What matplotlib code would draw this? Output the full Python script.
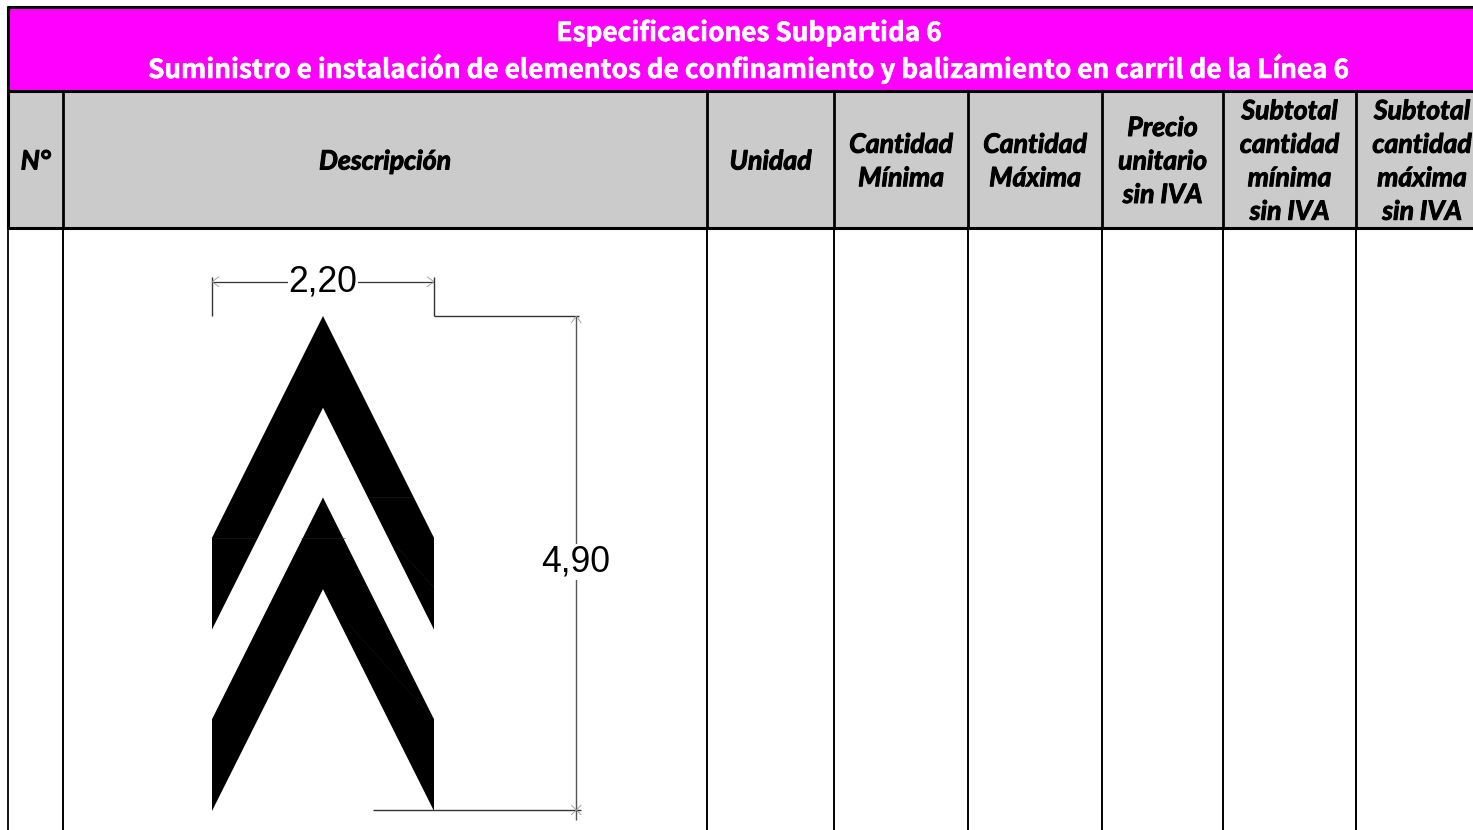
import matplotlib
matplotlib.use('Agg')
import matplotlib.pyplot as plt
import matplotlib.patheffects as pe
from matplotlib.patches import Polygon, Rectangle
from matplotlib.transforms import Affine2D

# Table text
title_lines = ['Especificaciones Subpartida 6',
               'Suministro e instalación de elementos de confinamiento y balizamiento en carril de la Línea 6']
headers = [['N°'], ['Descripción'], ['Unidad'], ['Cantidad', 'Mínima'], ['Cantidad', 'Máxima'],
           ['Precio', 'unitario', 'sin IVA'], ['Subtotal', 'cantidad', 'mínima', 'sin IVA'],
           ['Subtotal', 'cantidad', 'máxima', 'sin IVA']]

# Marking dimensions in metres
width_m = 2.20
height_m = 4.90
chevron_offsets = [0.0, 1.80]
chevron_side_y = 2.20
chevron_thickness = 0.91
width_label = '2,20'
height_label = '4,90'

# Column borders in pixels, last one falls off the page
col_edges = [8.5, 63, 707, 834, 968, 1102, 1223, 1356, 1490]

MAGENTA = '#ff00ff'
GREY = '#cbcbcb'
TITLE_FONT = ['Noto Sans CJK SC', 'DejaVu Sans']
HEAD_FONT = 'Lato'

fig = plt.figure(figsize=(14.73, 8.30), dpi=100)
ax = fig.add_axes([0, 0, 1, 1])
ax.set_xlim(0, 1473)
ax.set_ylim(830, 0)
ax.axis('off')

# Header fills
ax.add_patch(Rectangle((8, 8), 1480, 83, fc=MAGENTA, ec='none', zorder=1))
ax.add_patch(Rectangle((8, 91), 1480, 137, fc=GREY, ec='none', zorder=1))

# Borders: heavy in the header, lighter in the body
ax.plot([7, 1473], [7.5, 7.5], color='black', lw=2.2, zorder=3, solid_capstyle='butt')
ax.plot([7, 1473], [91, 91], color='black', lw=2.2, zorder=3, solid_capstyle='butt')
ax.plot([7, 1473], [228.5, 228.5], color='black', lw=2.2, zorder=3, solid_capstyle='butt')
ax.plot([8, 8], [6, 229], color='black', lw=2.2, zorder=3, solid_capstyle='butt')
ax.plot([8, 8], [229, 830], color='black', lw=1.3, zorder=3, solid_capstyle='butt')
for x in col_edges[1:-1]:
    ax.plot([x, x], [91, 229], color='black', lw=2.0, zorder=3, solid_capstyle='butt')
    ax.plot([x, x], [229, 830], color='black', lw=1.4, zorder=3, solid_capstyle='butt')

# Title
for text, y in zip(title_lines, [41, 78]):
    ax.text(749, y, text, color='white', fontsize=18.85, fontweight='bold', family=TITLE_FONT,
            ha='center', va='baseline', zorder=4,
            path_effects=[pe.withStroke(linewidth=0.4, foreground='white')])

# Column headers
for i, lines in enumerate(headers):
    cx = (col_edges[i] + col_edges[i + 1]) / 2
    if i == len(headers) - 1:
        cx = 1422
    for j, line in enumerate(lines):
        y = 169.5 + (j - (len(lines) - 1) / 2) * 33.5
        ax.text(cx, y, line, color='black', fontsize=19.2, fontweight='bold', style='italic',
                family=HEAD_FONT, ha='center', va='baseline', zorder=4,
                path_effects=[pe.withStroke(linewidth=0.7, foreground='black')])

# Diagram drawn in metres
metres = Affine2D().scale(222 / width_m, 494 / height_m).translate(212, 316) + ax.transData

for off in chevron_offsets:
    pts = [(0, off + chevron_side_y), (width_m / 2, off), (width_m, off + chevron_side_y),
           (width_m, off + chevron_side_y + chevron_thickness),
           (width_m / 2, off + chevron_thickness),
           (0, off + chevron_side_y + chevron_thickness)]
    ax.add_patch(Polygon(pts, closed=True, fc='black', ec='none', transform=metres, zorder=2))

dim_color = '#333333'


def dim_line(xs, ys, lw=1.0, color=dim_color, ls='-'):
    ax.plot(xs, ys, color=color, lw=lw, ls=ls, transform=metres, zorder=5, solid_capstyle='butt')


# Width dimension
top_y = -0.34
dim_line([0, width_m], [top_y, top_y], lw=0.9)
dim_line([0, 0], [-0.39, 0], lw=1.0)
dim_line([width_m, width_m], [-0.39, 0], lw=1.0)
dim_line([width_m, 3.64], [0, 0], lw=1.0)
# Height dimension
dim_x = 3.61
dim_line([dim_x, dim_x], [0, 5.0], lw=1.0, color='#555555')
dim_line([1.6, 3.66], [height_m, height_m], lw=1.0)

# Little open arrow heads and the cross at the foot
tick = '#999999'
for sign, x0 in [(1, 0), (-1, width_m)]:
    dim_line([x0, x0 + sign * 0.07], [top_y, top_y - 0.05], lw=0.6, color=tick)
    dim_line([x0, x0 + sign * 0.07], [top_y, top_y + 0.05], lw=0.6, color=tick)
dim_line([dim_x, dim_x - 0.05], [0, 0.07], lw=0.6, color=tick)
dim_line([dim_x, dim_x + 0.05], [0, 0.07], lw=0.6, color=tick)
dim_line([dim_x - 0.05, dim_x + 0.05], [height_m - 0.05, height_m + 0.05], lw=0.6, color=tick)
dim_line([dim_x - 0.05, dim_x + 0.05], [height_m + 0.05, height_m - 0.05], lw=0.6, color=tick)

# Dimension labels
white_box = dict(facecolor='white', edgecolor='none', pad=0.5)
ax.text(width_m / 2, top_y, width_label, transform=metres, fontsize=25.6,
        family='Liberation Sans', color='black', ha='center', va='center', bbox=white_box, zorder=6)
ax.text(dim_x - 0.01, 2.44, height_label, transform=metres, fontsize=25.6,
        family='Liberation Sans', color='black', ha='center', va='center', bbox=white_box, zorder=6)

# Faint seams inside the black shapes
seam = '#222222'
dim_line([1.55, 1.99], [1.80, 1.80], lw=0.4, color=seam)
dim_line([0, 0.43], [2.20, 2.20], lw=0.4, color=seam)
dim_line([0.88, 1.32], [2.20, 2.20], lw=0.4, color=seam)
dim_line([1.35, 2.2], [3.05, 4.0], lw=0.3, color='#181818')
dim_line([1.83, 2.2], [2.29, 2.69], lw=0.4, color=seam, ls='--')

fig.savefig('out.png', dpi=100, facecolor='white')
plt.close(fig)
